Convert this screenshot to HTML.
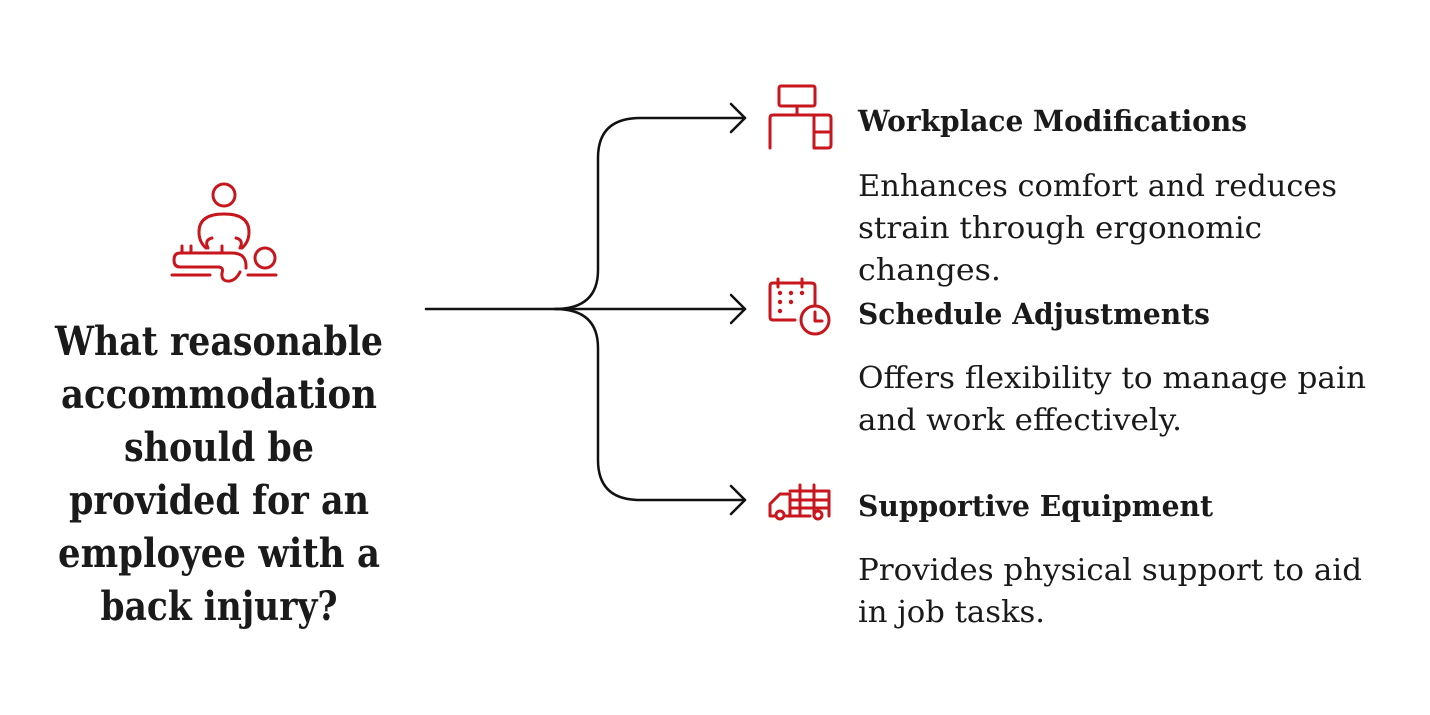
<!DOCTYPE html>
<html><head><meta charset="utf-8"><style>
html,body{margin:0;padding:0;background:#fff;}
svg{display:block;}
text{font-family:"DejaVu Serif","Liberation Serif",serif;fill:#1a1a1a;}
.h{font-weight:bold;font-size:29px;}
.d{font-size:30px;}
.q{font-weight:bold;font-size:40px;}
</style></head><body>
<svg width="1430" height="715" viewBox="0 0 1430 715" xmlns="http://www.w3.org/2000/svg">
<g fill="none" stroke="#111" stroke-width="2.5" stroke-linecap="round" stroke-linejoin="round">
<path d="M426 309 H555 Q598 309 598 270 V158 Q598 118 640 118 H745"/>
<path d="M555 309 H745"/>
<path d="M555 309 Q598 309 598 348 V460 Q598 500 640 500 H745"/>
<path d="M731 104 L745 118 L731 132"/>
<path d="M731 295 L745 309 L731 323"/>
<path d="M731 486 L745 500 L731 514"/>
</g>
<g fill="none" stroke="#c8161d" stroke-width="3" stroke-linecap="round" stroke-linejoin="round">
<circle cx="224" cy="195" r="11"/>
<path d="M206 248 Q199 242 199 232 Q199 214 224 214 Q249 214 249 232 Q249 242 242 248"/>
<path d="M212 238 Q204 240 208 248"/><path d="M236 238 Q244 240 240 248"/>
<path d="M182 246 V252 M191 246 V252 M222 246 V252"/>
<path d="M246 268 Q247 253 232 253 H180 Q174 253 174 260 Q174 267 180 267 H218 Q224 267 222 273 Q221 282 230 281 Q236 280 240 272"/>
<circle cx="265" cy="258" r="10"/>
<path d="M172 275 H210 M248 275 H276"/>
</g>
<g fill="none" stroke="#c8161d" stroke-width="3" stroke-linecap="round" stroke-linejoin="round">
<rect x="779" y="86" width="36" height="20" rx="2"/>
<path d="M797 106 V114"/>
<path d="M770 148 V118 Q770 115 773 115 H828 Q831 115 831 118 V145 Q831 148 828 148 H814 V115 M814 132 H831"/>
</g>
<g fill="none" stroke="#c8161d" stroke-width="3" stroke-linecap="round" stroke-linejoin="round">
<path d="M795 320 H773 Q770 320 770 317 V286 Q770 283 773 283 H811 Q815 283 815 286 V305"/>
<path d="M778 279 V287 M802 279 V287"/>
<circle cx="815" cy="320" r="14"/><path d="M815 312 V321 H822"/>
</g>
<g fill="#c8161d"><circle cx="780" cy="293" r="2.2"/><circle cx="791" cy="293" r="2.2"/><circle cx="802" cy="293" r="2.2"/><circle cx="780" cy="302" r="2.2"/><circle cx="791" cy="302" r="2.2"/><circle cx="780" cy="311" r="2.2"/></g>
<g fill="none" stroke="#c8161d" stroke-width="3" stroke-linecap="round" stroke-linejoin="round">
<path d="M776 516 H770 V504 L780 494 H790 V516"/>
<path d="M790 491 H829 M790 500 H829 M790 508 H829 M800 485 V516 M814 485 V516 M829 491 V516"/>
<circle cx="780" cy="515" r="4"/><circle cx="818" cy="515" r="4"/>
<path d="M786 516 H810"/>
</g>
<g text-anchor="middle">
<text x="219" y="355" class="q" textLength="328" lengthAdjust="spacingAndGlyphs">What reasonable</text>
<text x="219" y="408" class="q" textLength="316" lengthAdjust="spacingAndGlyphs">accommodation</text>
<text x="219" y="461" class="q" textLength="190" lengthAdjust="spacingAndGlyphs">should be</text>
<text x="219" y="514" class="q" textLength="300" lengthAdjust="spacingAndGlyphs">provided for an</text>
<text x="219" y="567" class="q" textLength="322" lengthAdjust="spacingAndGlyphs">employee with a</text>
<text x="219" y="620" class="q" textLength="237" lengthAdjust="spacingAndGlyphs">back injury?</text>
</g>
<text x="858" y="131" class="h" textLength="389" lengthAdjust="spacingAndGlyphs">Workplace Modifications</text>
<text x="858" y="196" class="d" textLength="479" lengthAdjust="spacingAndGlyphs">Enhances comfort and reduces</text>
<text x="858" y="238" class="d" textLength="404" lengthAdjust="spacingAndGlyphs">strain through ergonomic</text>
<text x="858" y="280" class="d" textLength="143" lengthAdjust="spacingAndGlyphs">changes.</text>
<text x="858" y="324" class="h" textLength="352" lengthAdjust="spacingAndGlyphs">Schedule Adjustments</text>
<text x="858" y="388" class="d" textLength="508" lengthAdjust="spacingAndGlyphs">Offers flexibility to manage pain</text>
<text x="858" y="430" class="d" textLength="324" lengthAdjust="spacingAndGlyphs">and work effectively.</text>
<text x="858" y="516" class="h" textLength="355" lengthAdjust="spacingAndGlyphs">Supportive Equipment</text>
<text x="858" y="580" class="d" textLength="504" lengthAdjust="spacingAndGlyphs">Provides physical support to aid</text>
<text x="858" y="622" class="d" textLength="187" lengthAdjust="spacingAndGlyphs">in job tasks.</text>
</svg>
</body></html>
